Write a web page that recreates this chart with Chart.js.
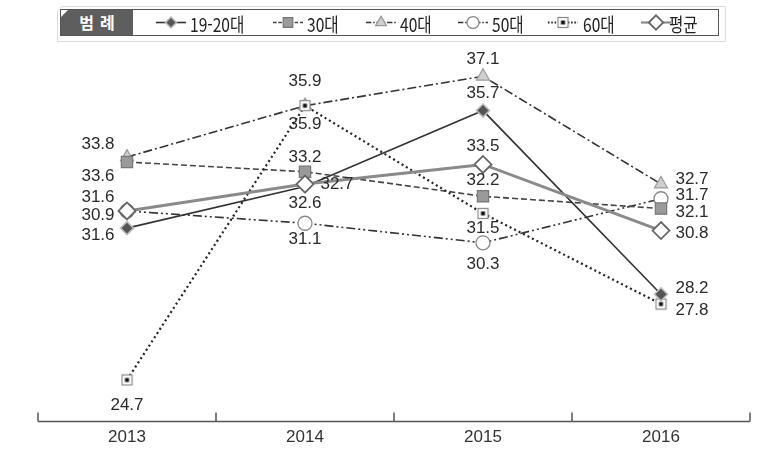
<!DOCTYPE html>
<html lang="ko">
<head>
<meta charset="utf-8">
<script src="https://cdn.jsdelivr.net/npm/chart.js@4.4.1/dist/chart.umd.min.js"></script>
<style>
  html, body { margin: 0; padding: 0; background: #fff; }
  #wrap { position: relative; width: 772px; height: 469px; overflow: hidden; }
  #chart { position: absolute; left: 0; top: 0; }
  #legend-frame { position: absolute; left: 57px; top: 6px; width: 667px; height: 34px; border: 1px solid #dcdcdc; border-radius: 7px 0 0 0; }
  #legend { position: absolute; left: 60px; top: 9px; width: 657px; height: 25px; border: 1px solid #555; background: #fff;
            font-family: "Noto Sans CJK KR", "Liberation Sans", sans-serif; font-size: 19px; color: #222; }
  #legend .title { position: absolute; left: 0; top: 0; width: 72px; height: 25px; background: #5e5e5e; color: #fff;
                   font-size: 16px; font-weight: bold; line-height: 25px; text-align: center; letter-spacing: 6px; text-indent: 6px;
                   clip-path: polygon(7px 0, 100% 0, 100% 100%, 0 100%, 0 7px); }
  #legend .item { position: absolute; top: 1px; height: 25px; line-height: 25px; white-space: nowrap;
                  transform: scaleX(0.82); transform-origin: 0 50%; }
  #legend canvas { position: absolute; top: 3px; }
</style>
</head>
<body>
<div id="wrap">
  <canvas id="chart" width="772" height="469"></canvas>
  <div id="legend-frame"></div>
  <div id="legend"><div class="title">범례</div></div>
</div>
<script>
// --- Data ---
const years = ['2013', '2014', '2015', '2016'];
const seriesNames = ['19-20대', '30대', '40대', '50대', '60대', '평균'];
const age1920 = [30.9, 32.6, 35.7, 28.2];
const age30 = [33.6, 33.2, 32.2, 31.7];
const age40 = [33.8, 35.9, 37.1, 32.7];
const age50 = [31.6, 31.1, 30.3, 32.1];
const age60 = [24.7, 35.9, 31.5, 27.8];
const average = [31.6, 32.7, 33.5, 30.8];

// label offsets from each point [dx, dy]
const labelOffsets = [
    [[-29, -13], [0, 17], [0, -17], [31, -6]],
    [[-29, 14], [0, -14], [0, -16], [31, -13]],
    [[-29, -13], [0, -24], [0, -17], [31, -5]],
    [[-29, -14], [0, 16], [0, 21], [31, 14]],
    [[0, 25], [0, 19], [0, 15], [31, 6]],
    [[-29, 24], [32, 0], [0, -18], [31, 3]]
];

// --- Point style: white square with black dot ---
function boxDot() {
    const c = document.createElement('canvas');
    c.width = 13; c.height = 13;
    const g = c.getContext('2d');
    g.fillStyle = '#fff';
    g.fillRect(1, 1, 11, 11);
    g.strokeStyle = '#888';
    g.lineWidth = 1.2;
    g.strokeRect(1.5, 1.5, 10, 10);
    g.fillStyle = '#111';
    g.fillRect(4.5, 4.5, 4, 4);
    return c;
}

const styles = [
    { line: '#333', width: 1.6, dash: [], point: 'rectRot', radius: 6.5, bg: '#555', border: '#bbb', bw: 1.5, order: 1 },
    { line: '#444', width: 1.6, dash: [6, 3], point: 'rect', radius: 8, bg: '#9a9a9a', border: '#777', bw: 1.2, order: 3 },
    { line: '#333', width: 1.6, dash: [9, 3, 2, 3], point: 'triangle', radius: 7.5, bg: '#cfcfcf', border: '#999', bw: 1.2, order: 5 },
    { line: '#333', width: 1.6, dash: [9, 3, 2, 3, 2, 3], point: 'circle', radius: 7, bg: '#fff', border: '#888', bw: 1.3, order: 4 },
    { line: '#222', width: 2.2, dash: [2, 3], point: boxDot(), radius: 7, bg: '#fff', border: '#888', bw: 1, order: 2 },
    { line: '#8a8a8a', width: 3, dash: [], point: 'rectRot', radius: 8.5, bg: '#fff', border: '#666', bw: 1.8, order: 0 }
];

const allValues = [age1920, age30, age40, age50, age60, average];

const datasets = allValues.map((vals, i) => ({
    label: seriesNames[i],
    data: vals,
    borderColor: styles[i].line,
    borderWidth: styles[i].width,
    borderDash: styles[i].dash,
    pointStyle: styles[i].point,
    pointRadius: styles[i].radius,
    pointBackgroundColor: styles[i].bg,
    pointBorderColor: styles[i].border,
    pointBorderWidth: styles[i].bw,
    tension: 0,
    fill: false,
    order: styles[i].order
}));

// --- Plugins ---
const axisPlugin = {
    id: 'axisLine',
    beforeDatasetsDraw(chart) {
        const ctx = chart.ctx;
        const xs = chart.scales.x;
        const y = chart.chartArea.bottom;
        ctx.save();
        ctx.strokeStyle = '#555';
        ctx.lineWidth = 1.5;
        ctx.beginPath();
        ctx.moveTo(xs.getPixelForValue(-0.5), y);
        ctx.lineTo(xs.getPixelForValue(years.length - 0.5), y);
        for (let i = 0; i <= years.length; i++) {
            const px = xs.getPixelForValue(i - 0.5);
            ctx.moveTo(px, y);
            ctx.lineTo(px, y - 9);
        }
        ctx.stroke();
        ctx.restore();
    }
};

const valueLabels = {
    id: 'valueLabels',
    afterDatasetsDraw(chart) {
        const ctx = chart.ctx;
        ctx.save();
        ctx.font = '17px "Liberation Sans", Arial, sans-serif';
        ctx.fillStyle = '#2a2a2a';
        ctx.textAlign = 'center';
        ctx.textBaseline = 'middle';
        chart.data.datasets.forEach((ds, di) => {
            const meta = chart.getDatasetMeta(di);
            meta.data.forEach((pt, i) => {
                const off = labelOffsets[di][i];
                ctx.fillText(ds.data[i].toFixed(1), pt.x + off[0], pt.y + off[1]);
            });
        });
        ctx.restore();
    }
};

// --- Chart ---
const chart = new Chart(document.getElementById('chart'), {
    type: 'line',
    data: { labels: years, datasets: datasets },
    options: {
        responsive: false,
        animation: false,
        layout: { padding: { left: 38, right: 22, top: 42, bottom: 23 } },
        plugins: { legend: { display: false }, tooltip: { enabled: false } },
        scales: {
            x: {
                offset: true,
                grid: { display: false },
                border: { display: false },
                ticks: { color: '#333', padding: -2, font: { family: '"Liberation Sans", Arial, sans-serif', size: 17 } }
            },
            y: { display: false, min: 23, max: 38.5 }
        }
    },
    plugins: [axisPlugin, valueLabels]
});

// --- Legend ---
const legendIcons = [94, 211, 304, 396, 486, 579];
const legendText = [129, 246, 339, 431, 522, 608];
const legend = document.getElementById('legend');
seriesNames.forEach((name, i) => {
    const c = document.createElement('canvas');
    c.width = 32; c.height = 19;
    c.style.left = legendIcons[i] + 'px';
    const g = c.getContext('2d');
    const s = styles[i];
    g.strokeStyle = s.line;
    g.lineWidth = Math.min(s.width, 2.2);
    g.setLineDash(s.dash.map(d => Math.max(1.5, d * 0.6)));
    g.beginPath();
    g.moveTo(1, 9.5);
    g.lineTo(31, 9.5);
    g.stroke();
    g.setLineDash([]);
    g.fillStyle = s.bg;
    g.strokeStyle = s.border;
    g.lineWidth = s.bw;
    Chart.helpers.drawPoint(g, { pointStyle: s.point, radius: s.radius * 0.85, borderWidth: s.bw, rotation: 0 }, 16, 9.5);
    legend.appendChild(c);
    const t = document.createElement('div');
    t.className = 'item';
    t.style.left = legendText[i] + 'px';
    t.textContent = name;
    legend.appendChild(t);
});
</script>
</body>
</html>
